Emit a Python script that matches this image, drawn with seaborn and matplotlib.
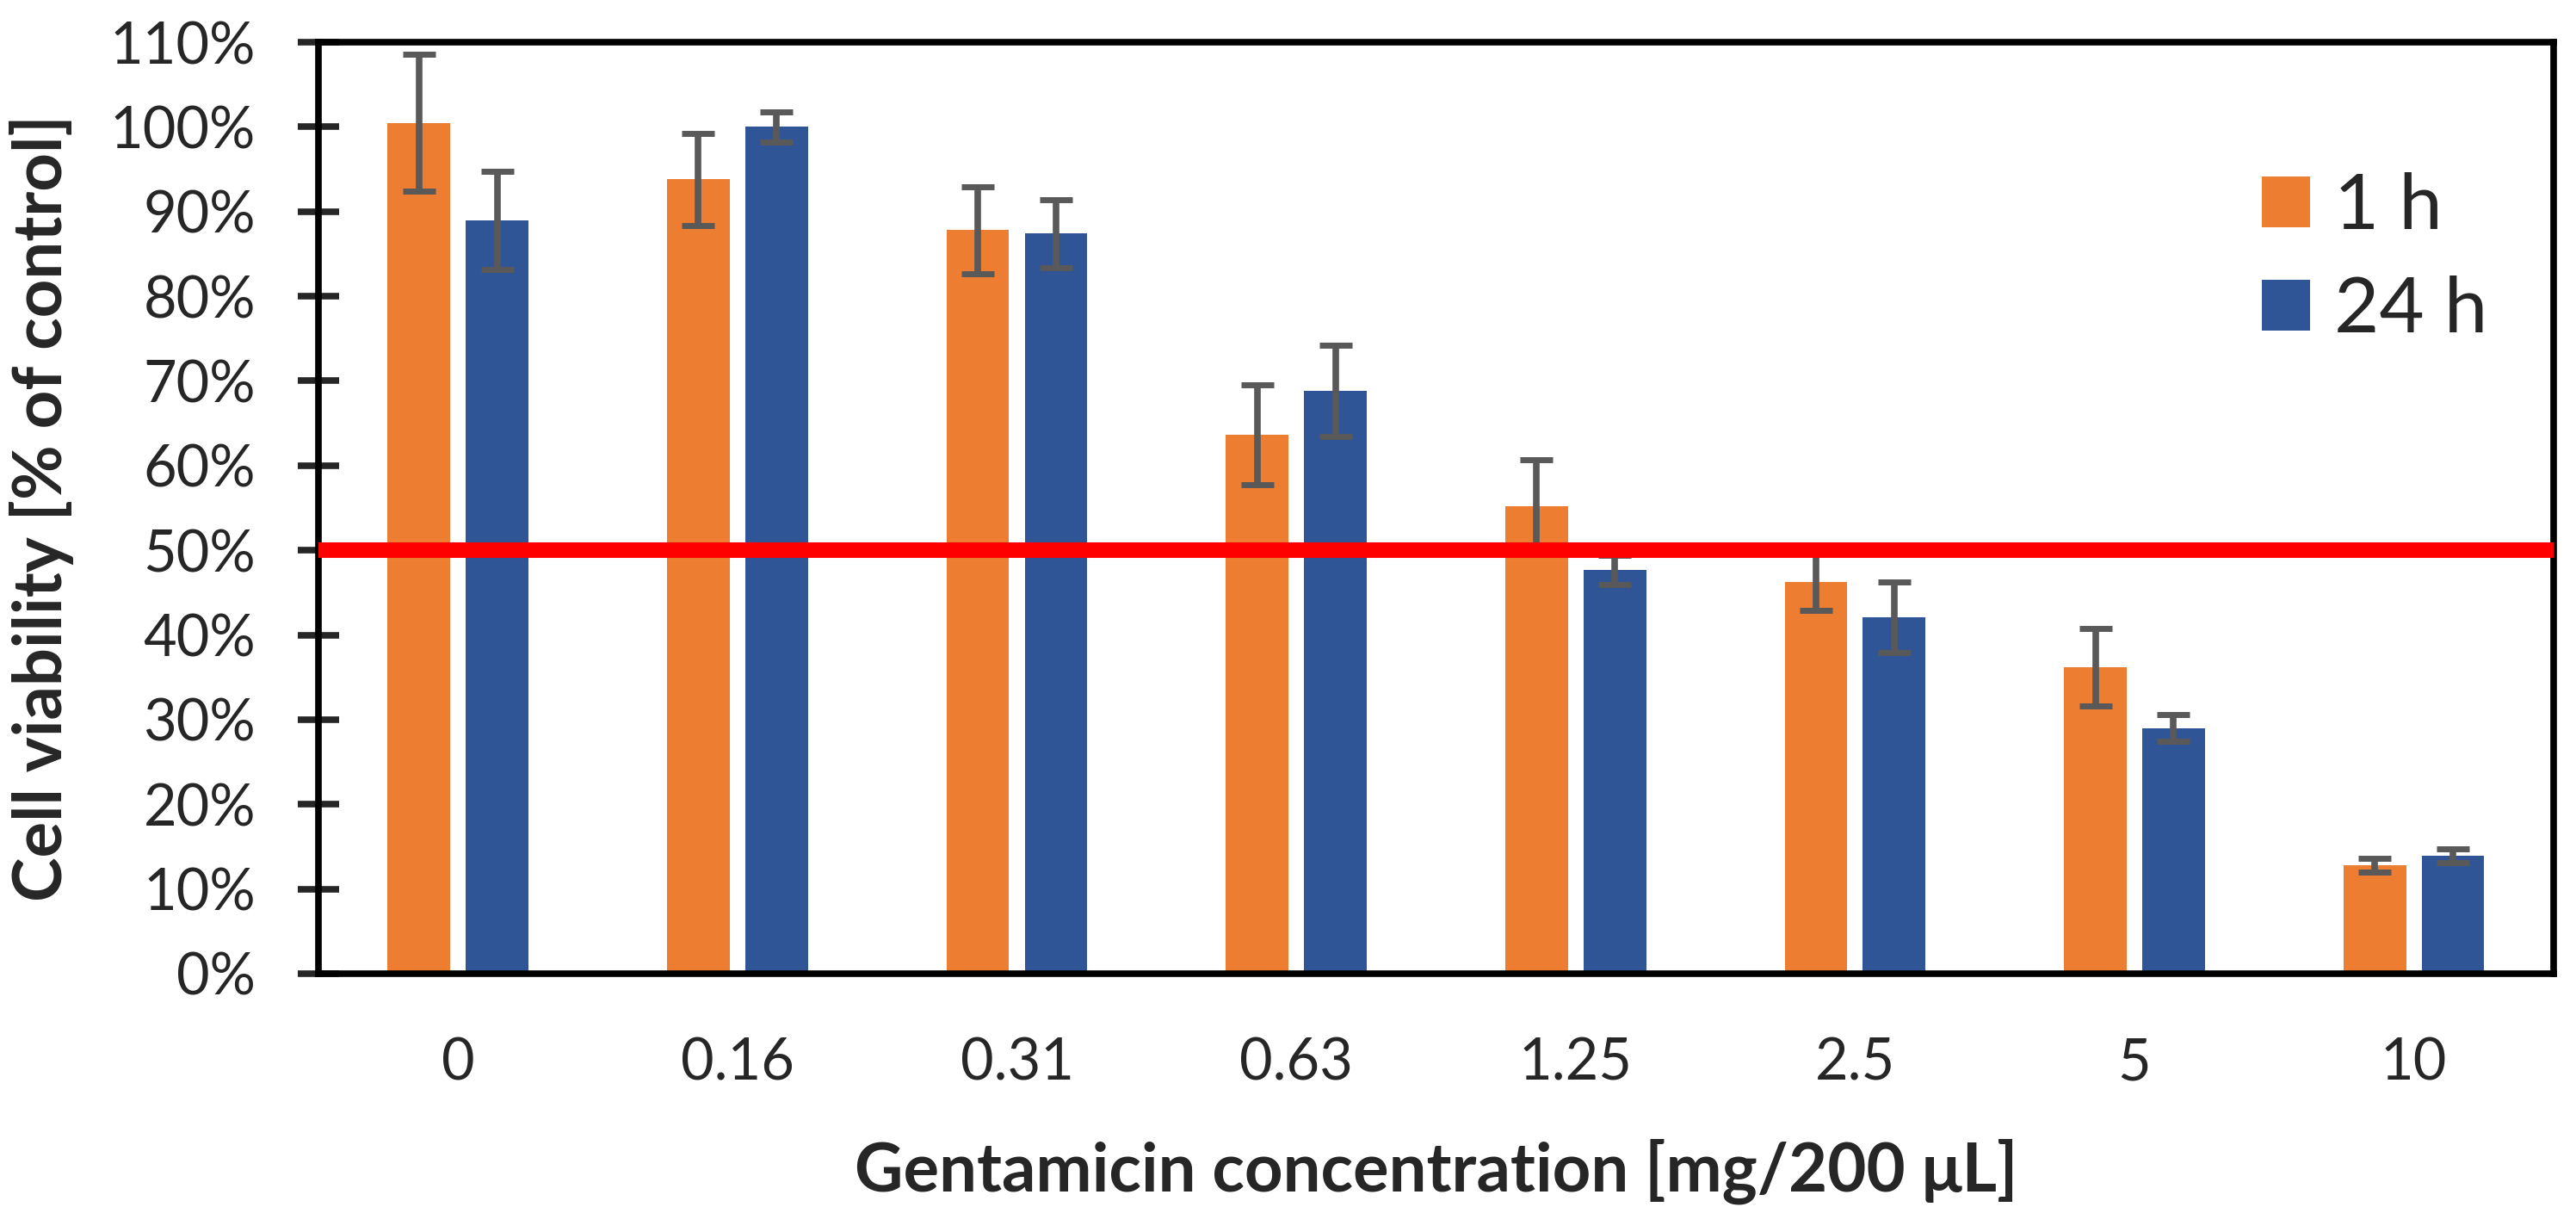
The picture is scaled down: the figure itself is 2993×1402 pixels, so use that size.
import seaborn as sns
import matplotlib.pyplot as plt
import pandas as pd
from matplotlib.ticker import FuncFormatter

# gentamicin concentrations [mg/200 uL] and viability (% of control)
conc = ["0", "0.16", "0.31", "0.63", "1.25", "2.5", "5", "10"]
times = ["1 h", "24 h"]
via_1h = [100.5, 93.8, 87.8, 63.6, 55.2, 46.3, 36.2, 12.8]
err_1h = [8.1, 5.4, 5.1, 5.9, 5.5, 3.4, 4.6, 0.8]
via_24h = [89.0, 100.0, 87.4, 68.8, 47.7, 42.1, 29.0, 13.9]
err_24h = [5.8, 1.8, 4.0, 5.4, 1.7, 4.2, 1.6, 0.8]
threshold = 50

df = pd.DataFrame({
    'conc': conc * 2,
    'time': [times[0]] * len(conc) + [times[1]] * len(conc),
    'viability': via_1h + via_24h,
})

sns.set_style('ticks')
plt.rcParams['font.family'] = ['Lato', 'DejaVu Sans']

fig = plt.figure(figsize=(29.93, 14.02), dpi=100)
ax = fig.add_axes([0.1236, 0.1933, 0.8677, 0.7717])

sns.barplot(data=df, x='conc', y='viability', hue='time', hue_order=times,
            palette=['#ED7D31', '#2F5597'], width=0.56, gap=0.2,
            errorbar=None, linewidth=0, saturation=1, ax=ax)

# error bars on top of each bar
for cont, errs in zip(ax.containers, [err_1h, err_24h]):
    for bar, e in zip(cont, errs):
        ax.errorbar(bar.get_x() + bar.get_width() / 2, bar.get_height(), yerr=e,
                    fmt='none', ecolor='#595959', elinewidth=5.5, capsize=13.5,
                    capthick=5, zorder=3)

ax.axhline(threshold, color='#FF0000', lw=13, zorder=4)

ax.set_ylim(0, 110)
ax.set_xlim(-0.5, len(conc) - 0.5)
ax.set_yticks(range(0, 111, 10))
ax.yaxis.set_major_formatter(FuncFormatter(lambda v, p: f'{v:.0f}%'))
ax.tick_params(axis='y', direction='inout', length=35, width=5.5, labelsize=48, pad=35)
ax.tick_params(axis='x', length=0, labelsize=48, pad=53)
for s in ax.spines.values():
    s.set_visible(True)
    s.set_linewidth(5.5)
    s.set_color('black')

ax.set_xlabel('Gentamicin concentration [mg/200 μL]', fontsize=56, fontweight='bold', labelpad=40)
ax.set_ylabel('Cell viability [% of control]', fontsize=56, fontweight='bold', labelpad=30)

leg = ax.legend(loc='upper left', bbox_to_anchor=(0.878, 0.857), bbox_transform=fig.transFigure,
                frameon=False, fontsize=65, handlelength=0.62, handleheight=0.62,
                handletextpad=0.31, labelspacing=0.42, borderpad=0, borderaxespad=0)
leg.set_title('')

fig.savefig('out.png', dpi=100)
